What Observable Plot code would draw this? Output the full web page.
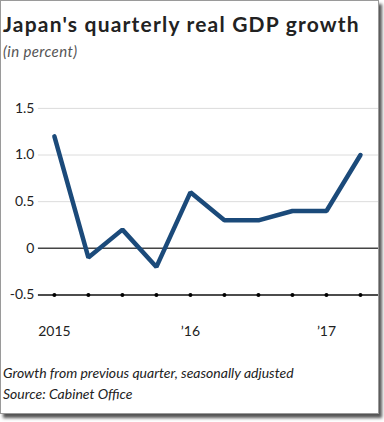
<!DOCTYPE html>
<html>
<head>
<meta charset="utf-8">
<script src="https://cdn.jsdelivr.net/npm/d3@7"></script>
<script src="https://cdn.jsdelivr.net/npm/@observablehq/plot@0.6"></script>
<style>
  html, body { margin: 0; padding: 0; background: #fff; }
  #frame {
    position: absolute; left: 0; top: 0;
    width: 377px; height: 412px;
    border: 1px solid #9a9a9a;
    box-shadow: 3px 4px 3px #555;
    background: #fff;
    font-family: Lato, "Open Sans", sans-serif;
    overflow: hidden;
  }
  #title { position: absolute; left: 2px; top: 10px; font-size: 21px; font-weight: 700; color: #222; white-space: nowrap; letter-spacing: 1.2px; }
  #subtitle { position: absolute; left: 2px; top: 41px; font-size: 15px; font-style: italic; color: #555; letter-spacing: 0.4px; }
  #chart { position: absolute; left: 0; top: 70px; }
  #caption { position: absolute; left: 2px; top: 361px; font-size: 14px; font-style: italic; color: #222; line-height: 21px; white-space: nowrap; }
</style>
</head>
<body>
<div id="frame">
  <div id="title">Japan's quarterly real GDP growth</div>
  <div id="subtitle">(in percent)</div>
  <div id="chart"></div>
  <div id="caption">Growth from previous quarter, seasonally adjusted<br>Source: Cabinet Office</div>
</div>
<script>
const quarters = ["2015Q1","2015Q2","2015Q3","2015Q4","2016Q1","2016Q2","2016Q3","2016Q4","2017Q1","2017Q2"];
const growth = [1.2, -0.1, 0.2, -0.2, 0.6, 0.3, 0.3, 0.4, 0.4, 1.0];
const yTicks = [-0.5, 0, 0.5, 1.0, 1.5];
const xLabelIndex = [0, 4, 8];
const xLabels = ["2015", "’16", "’17"];

const data = quarters.map((q, i) => ({i, q, v: growth[i]}));
const labelData = xLabelIndex.map((i, k) => ({i, t: xLabels[k]}));

const chart = Plot.plot({
  width: 378,
  height: 274,
  marginLeft: 37,
  marginRight: 0,
  marginTop: 37,
  marginBottom: 50,
  style: {fontFamily: "Lato, 'Open Sans', sans-serif", fontSize: "14px", color: "#222", background: "transparent"},
  x: {domain: [-0.47, 9.53], axis: null},
  y: {domain: [-0.5, 1.5], ticks: yTicks, tickFormat: d => d === 0 ? "0" : d.toFixed(1), tickSize: 0, tickPadding: 4, label: null},
  marks: [
    Plot.ruleY(yTicks.filter(d => d > 0), {stroke: "#dcdcdc", strokeWidth: 1}),
    Plot.ruleY([0], {stroke: "#444", strokeWidth: 1.5}),
    Plot.ruleY([-0.5], {stroke: "#111", strokeWidth: 1.5}),
    Plot.dot(data, {x: "i", y: () => -0.5, r: 2, fill: "#000"}),
    Plot.line(data, {x: "i", y: "v", stroke: "#1b4a7a", strokeWidth: 4.5, strokeLinejoin: "miter", strokeLinecap: "round"}),
    Plot.text(labelData, {x: "i", y: () => -0.5, text: "t", dy: 37, fontSize: 14, fill: "#222"})
  ]
});
document.getElementById("chart").appendChild(chart);
</script>
</body>
</html>
